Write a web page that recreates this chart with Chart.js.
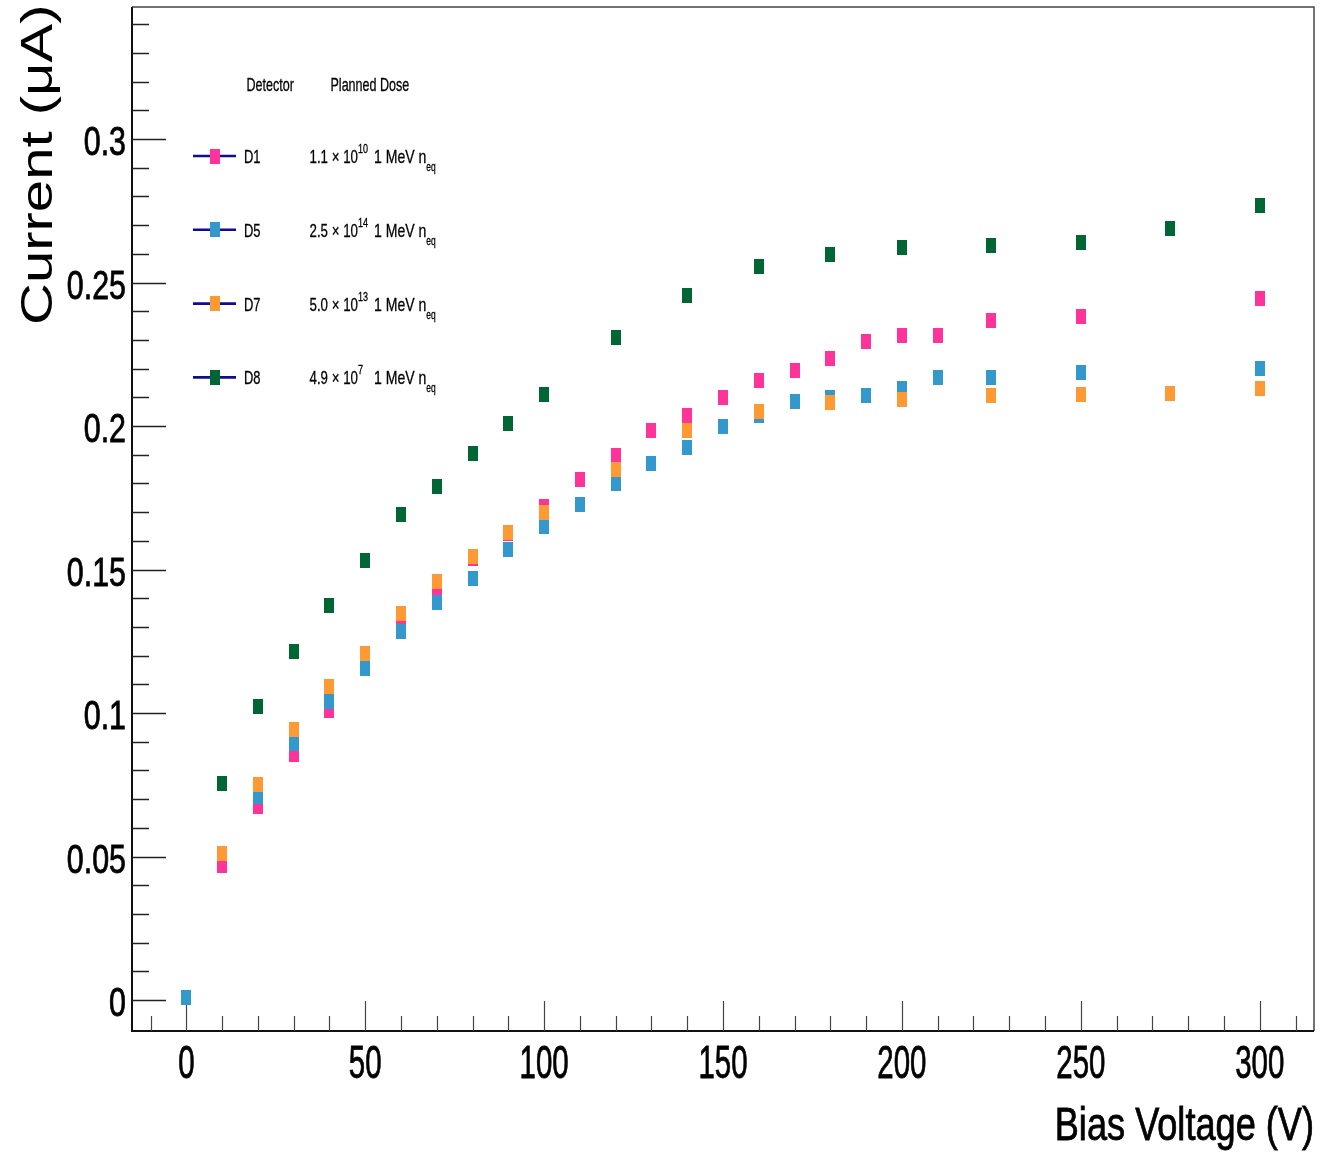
<!DOCTYPE html>
<html>
<head>
<meta charset="utf-8">
<title>IV curves</title>
<script src="https://cdn.jsdelivr.net/npm/chart.js@4.4.1/dist/chart.umd.min.js"></script>
<style>
    html, body { margin: 0; padding: 0; background: #ffffff; }
    canvas { display: block; }
</style>
</head>
<body>
<canvas id="iv_canvas" width="1324" height="1159"></canvas>
<script>
// bias voltage (V) and leakage current (uA) per detector
var d1_voltage = [10, 20, 30, 40, 50, 60, 70, 80, 90, 100, 110, 120, 130, 140, 150, 160, 170, 180, 190, 200, 210, 225, 250, 300];
var d1_current = [0.0467, 0.0674, 0.0856, 0.1010, 0.1160, 0.1314, 0.1422, 0.1538, 0.1627, 0.1721, 0.1815, 0.1897, 0.1985, 0.2038, 0.2101, 0.2160, 0.2195, 0.2236, 0.2294, 0.2316, 0.2316, 0.2369, 0.2383, 0.2446];

var d5_voltage = [0, 20, 30, 40, 50, 60, 70, 80, 90, 100, 110, 120, 130, 140, 150, 160, 170, 180, 190, 200, 210, 225, 250, 300];
var d5_current = [0.0008, 0.0708, 0.0894, 0.1039, 0.1156, 0.1283, 0.1386, 0.1470, 0.1568, 0.1649, 0.1725, 0.1800, 0.1869, 0.1926, 0.1998, 0.2035, 0.2084, 0.2101, 0.2106, 0.2132, 0.2168, 0.2168, 0.2186, 0.2200];

var d7_voltage = [10, 20, 30, 40, 50, 60, 70, 80, 90, 100, 120, 140, 160, 180, 200, 225, 250, 275, 300];
var d7_current = [0.0509, 0.0752, 0.0943, 0.1092, 0.1208, 0.1345, 0.1458, 0.1545, 0.1630, 0.1698, 0.1847, 0.1986, 0.2052, 0.2083, 0.2092, 0.2106, 0.2110, 0.2114, 0.2132];

var d8_voltage = [10, 20, 30, 40, 50, 60, 70, 80, 90, 100, 120, 140, 160, 180, 200, 225, 250, 275, 300];
var d8_current = [0.0755, 0.1022, 0.1214, 0.1376, 0.1533, 0.1690, 0.1789, 0.1905, 0.2008, 0.2110, 0.2308, 0.2455, 0.2557, 0.2598, 0.2621, 0.2630, 0.2638, 0.2687, 0.2768];

var detectors = ["D1", "D5", "D7", "D8"];
var dose_mantissa = ["1.1", "2.5", "5.0", "4.9"];
var dose_exponent = ["10", "14", "13", "7"];
var colors = ["#ff3399", "#3399cc", "#ff9933", "#006633"];

var x_ticks = [0, 50, 100, 150, 200, 250, 300];
var y_ticks = [0, 0.05, 0.1, 0.15, 0.2, 0.25, 0.3];
var y_tick_labels = ["0", "0.05", "0.1", "0.15", "0.2", "0.25", "0.3"];

var FONT = '"Liberation Sans", Arial, Helvetica, sans-serif';

// ROOT style box marker, a bit taller than wide
function markerCanvas(color) {
    var c = document.createElement("canvas");
    c.width = 10;
    c.height = 15;
    var cx = c.getContext("2d");
    cx.fillStyle = color;
    cx.fillRect(0, 0, 10, 15);
    return c;
}
var markers = colors.map(markerCanvas);

function toPoints(xs, ys) {
    return xs.map(function (x, i) { return { x: x, y: ys[i] }; });
}

// narrow text: draw with a horizontal squeeze, returns drawn width
function squeezedText(ctx, str, x, y, size, sx, align) {
    ctx.save();
    ctx.translate(x, y);
    ctx.scale(sx, 1);
    ctx.font = size + "px " + FONT;
    ctx.textAlign = align || "left";
    ctx.textBaseline = "alphabetic";
    ctx.fillStyle = "#000000";
    ctx.strokeStyle = "#000000";
    ctx.lineWidth = size > 30 ? 0.8 : 0.3;
    ctx.fillText(str, 0, 0);
    ctx.strokeText(str, 0, 0);
    var w = ctx.measureText(str).width * sx;
    ctx.restore();
    return w;
}

// frame, inward ticks and tick labels
var framePlugin = {
    id: "rootFrame",
    beforeDatasetsDraw: function (chart) {
        var ctx = chart.ctx;
        var area = chart.chartArea;
        var xs = chart.scales.x;
        var ys = chart.scales.y;
        ctx.save();

        // top and right edges
        ctx.strokeStyle = "#444444";
        ctx.lineWidth = 1.5;
        ctx.beginPath();
        ctx.moveTo(area.left, area.top);
        ctx.lineTo(area.right, area.top);
        ctx.lineTo(area.right, area.bottom);
        ctx.stroke();

        // axis lines
        ctx.strokeStyle = "#111111";
        ctx.lineWidth = 2;
        ctx.beginPath();
        ctx.moveTo(area.left, area.top);
        ctx.lineTo(area.left, area.bottom);
        ctx.lineTo(area.right, area.bottom);
        ctx.stroke();

        // y ticks every 0.01, longer every 0.05
        ctx.strokeStyle = "#222222";
        ctx.lineWidth = 1.5;
        for (var k = 0; k <= 34; k++) {
            var py = Math.round(ys.getPixelForValue(k / 100)) + 0.5;
            var len = (k % 5 === 0) ? 34 : 17;
            ctx.beginPath();
            ctx.moveTo(area.left, py);
            ctx.lineTo(area.left + len, py);
            ctx.stroke();
        }

        // x ticks every 10 V, longer every 50 V
        ctx.strokeStyle = "#444444";
        ctx.lineWidth = 1.2;
        for (var v = -10; v <= 310; v += 10) {
            var px = Math.round(xs.getPixelForValue(v)) + 0.5;
            var lx = (v % 50 === 0) ? 30 : 15;
            ctx.beginPath();
            ctx.moveTo(px, area.bottom);
            ctx.lineTo(px, area.bottom - lx);
            ctx.stroke();
        }
        ctx.restore();

        y_ticks.forEach(function (t, i) {
            squeezedText(ctx, y_tick_labels[i], area.left - 6, ys.getPixelForValue(t) + 16, 40, 0.76, "right");
        });
        x_ticks.forEach(function (t) {
            squeezedText(ctx, String(t), xs.getPixelForValue(t), area.bottom + 47, 46, 0.64, "center");
        });

        // axis titles
        squeezedText(ctx, "Bias Voltage (V)", area.right, area.bottom + 109, 46, 0.786, "right");

        ctx.save();
        ctx.translate(51.5, 325);
        ctx.rotate(-Math.PI / 2);
        ctx.scale(1.29, 1);
        ctx.font = "45px " + FONT;
        ctx.fillStyle = "#000000";
        ctx.textBaseline = "alphabetic";
        ctx.fillText("Current (\u03bcA)", 0, 0);
        ctx.restore();
    },
    afterDraw: function (chart) {
        var ctx = chart.ctx;
        squeezedText(ctx, "Detector", 246.5, 91, 19, 0.66);
        squeezedText(ctx, "Planned Dose", 330.5, 91, 19, 0.66);

        for (var i = 0; i < detectors.length; i++) {
            var y = 156 + 73.8 * i;
            ctx.save();
            ctx.strokeStyle = "#0c0c96";
            ctx.lineWidth = 2.6;
            ctx.beginPath();
            ctx.moveTo(193, y);
            ctx.lineTo(236, y);
            ctx.stroke();
            ctx.drawImage(markers[i], 210, y - 7.5);
            ctx.restore();

            squeezedText(ctx, detectors[i], 244, y + 7, 19, 0.68);

            var w = squeezedText(ctx, dose_mantissa[i] + " \u00d7 10", 309.5, y + 7, 19, 0.7);
            squeezedText(ctx, dose_exponent[i], 309.5 + w, y - 3, 12, 0.75);
            var w2 = squeezedText(ctx, "1 MeV n", 374, y + 7, 19, 0.74);
            squeezedText(ctx, "eq", 374 + w2, y + 15, 12, 0.7);
        }
    }
};

var datasets = [
    { label: "D1", data: toPoints(d1_voltage, d1_current), order: 4 },
    { label: "D5", data: toPoints(d5_voltage, d5_current), order: 3 },
    { label: "D7", data: toPoints(d7_voltage, d7_current), order: 2 },
    { label: "D8", data: toPoints(d8_voltage, d8_current), order: 1 }
].map(function (ds, i) {
    ds.pointStyle = markers[i];
    ds.backgroundColor = colors[i];
    ds.borderColor = colors[i];
    ds.pointRadius = 6;
    ds.showLine = false;
    return ds;
});

var graph = new Chart(document.getElementById("iv_canvas").getContext("2d"), {
    type: "scatter",
    data: { datasets: datasets },
    options: {
        responsive: false,
        animation: false,
        devicePixelRatio: 1,
        layout: { padding: { left: 132, top: 7, right: 10, bottom: 128 } },
        scales: {
            x: { type: "linear", min: -15.18, max: 315.17, display: false },
            y: { type: "linear", min: -0.0108, max: 0.346, display: false }
        },
        plugins: {
            legend: { display: false },
            tooltip: { enabled: false }
        }
    },
    plugins: [framePlugin]
});
</script>
</body>
</html>
